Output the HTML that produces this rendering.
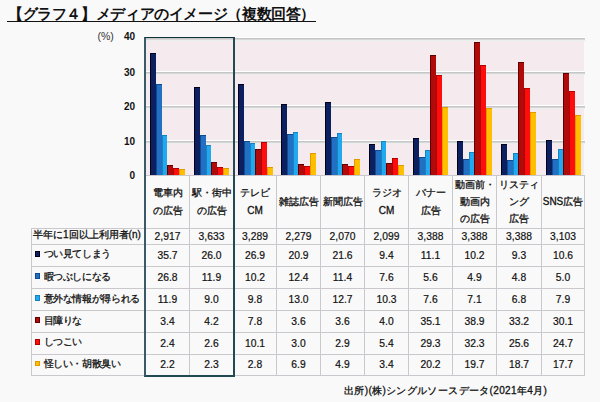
<!DOCTYPE html><html><head><meta charset="utf-8"><style>
*{margin:0;padding:0;box-sizing:border-box}
html,body{width:600px;height:402px;overflow:hidden;background:#f9f9f9;font-family:"Liberation Sans",sans-serif;color:#111}
.hd,.lab,.ft{-webkit-text-stroke:0.3px #111}
.cell{-webkit-text-stroke:0.2px #111}
.a{position:absolute}
.title{left:8px;top:5px;font-size:14.7px;font-weight:bold;white-space:nowrap;letter-spacing:-0.38px}
.ul{left:7px;top:21px;width:309px;height:1px;background:#111}
.yl{font-size:10px;font-weight:bold;text-align:right;width:30px;left:105px;line-height:11px}
.grid{left:145px;width:440px;height:4px;background:linear-gradient(#fff 0,#fff 25%,#c3c7c7 25%,#c3c7c7 50%,#dcd5d5 50%,#dcd5d5 75%,#e8efed 75%)}
.plot{left:145px;top:40px;width:439px;height:135px;background:#f5ebee}
.bar{position:absolute}
.vl{position:absolute;width:1px;background:#cac8cc}
.hl{position:absolute;height:1px;background:#cac8cc}
.hd{position:absolute;top:175px;height:53px;display:flex;align-items:center;justify-content:center;text-align:center;font-size:10px;line-height:17.3px}
.cell{position:absolute;text-align:center;font-size:10.3px;display:flex;align-items:center;justify-content:center}
.lab{position:absolute;left:33px;font-size:10px;letter-spacing:-0.35px;display:flex;align-items:center;white-space:nowrap;padding-bottom:2px}
.sq{display:inline-block;width:5.5px;height:5.5px;margin:0 3.5px 1px 1.5px}
</style></head><body>

<div class="a title">【グラフ４】メディアのイメージ（複数回答）</div>
<div class="a ul"></div>
<div class="a" style="left:97.5px;top:30px;font-size:10.5px;line-height:12px;color:#333">(%)</div>
<div class="a yl" style="top:31.0px">40</div>
<div class="a yl" style="top:67.0px">30</div>
<div class="a yl" style="top:101.0px">20</div>
<div class="a yl" style="top:135.7px">10</div>
<div class="a yl" style="top:170.1px">0</div>
<div class="a plot"></div>
<div class="a grid" style="top:37px"></div>
<div class="a grid" style="top:71px"></div>
<div class="a grid" style="top:105px"></div>
<div class="a grid" style="top:140px"></div>
<div class="bar" style="left:150px;top:53px;width:6px;height:122px;background:#0c1f5e;box-shadow:inset 1px 1px 0 #000018"></div>
<div class="bar" style="left:156px;top:84px;width:6px;height:91px;background:#2270c4;box-shadow:inset 1px 1px 0 #0f4a90"></div>
<div class="bar" style="left:162px;top:135px;width:5px;height:40px;background:#22a8ee;box-shadow:inset 1px 1px 0 #1583c0"></div>
<div class="bar" style="left:167px;top:165px;width:6px;height:10px;background:#b00a0a;box-shadow:inset 1px 1px 0 #600000"></div>
<div class="bar" style="left:173px;top:168px;width:6px;height:7px;background:#ff0d0d;box-shadow:inset 1px 1px 0 #b00000"></div>
<div class="bar" style="left:179px;top:169px;width:6px;height:6px;background:#ffbe00;box-shadow:inset 1px 1px 0 #e09a00"></div>
<div class="bar" style="left:194px;top:87px;width:6px;height:88px;background:#0c1f5e;box-shadow:inset 1px 1px 0 #000018"></div>
<div class="bar" style="left:200px;top:135px;width:6px;height:40px;background:#2270c4;box-shadow:inset 1px 1px 0 #0f4a90"></div>
<div class="bar" style="left:206px;top:145px;width:5px;height:30px;background:#22a8ee;box-shadow:inset 1px 1px 0 #1583c0"></div>
<div class="bar" style="left:211px;top:162px;width:6px;height:13px;background:#b00a0a;box-shadow:inset 1px 1px 0 #600000"></div>
<div class="bar" style="left:217px;top:167px;width:6px;height:8px;background:#ff0d0d;box-shadow:inset 1px 1px 0 #b00000"></div>
<div class="bar" style="left:223px;top:168px;width:6px;height:7px;background:#ffbe00;box-shadow:inset 1px 1px 0 #e09a00"></div>
<div class="bar" style="left:238px;top:84px;width:6px;height:91px;background:#0c1f5e;box-shadow:inset 1px 1px 0 #000018"></div>
<div class="bar" style="left:244px;top:141px;width:6px;height:34px;background:#2270c4;box-shadow:inset 1px 1px 0 #0f4a90"></div>
<div class="bar" style="left:250px;top:143px;width:5px;height:32px;background:#22a8ee;box-shadow:inset 1px 1px 0 #1583c0"></div>
<div class="bar" style="left:255px;top:149px;width:6px;height:26px;background:#b00a0a;box-shadow:inset 1px 1px 0 #600000"></div>
<div class="bar" style="left:261px;top:142px;width:6px;height:33px;background:#ff0d0d;box-shadow:inset 1px 1px 0 #b00000"></div>
<div class="bar" style="left:267px;top:167px;width:6px;height:8px;background:#ffbe00;box-shadow:inset 1px 1px 0 #e09a00"></div>
<div class="bar" style="left:281px;top:104px;width:6px;height:71px;background:#0c1f5e;box-shadow:inset 1px 1px 0 #000018"></div>
<div class="bar" style="left:287px;top:134px;width:6px;height:41px;background:#2270c4;box-shadow:inset 1px 1px 0 #0f4a90"></div>
<div class="bar" style="left:293px;top:132px;width:5px;height:43px;background:#22a8ee;box-shadow:inset 1px 1px 0 #1583c0"></div>
<div class="bar" style="left:298px;top:164px;width:6px;height:11px;background:#b00a0a;box-shadow:inset 1px 1px 0 #600000"></div>
<div class="bar" style="left:304px;top:166px;width:6px;height:9px;background:#ff0d0d;box-shadow:inset 1px 1px 0 #b00000"></div>
<div class="bar" style="left:310px;top:153px;width:6px;height:22px;background:#ffbe00;box-shadow:inset 1px 1px 0 #e09a00"></div>
<div class="bar" style="left:325px;top:102px;width:6px;height:73px;background:#0c1f5e;box-shadow:inset 1px 1px 0 #000018"></div>
<div class="bar" style="left:331px;top:137px;width:6px;height:38px;background:#2270c4;box-shadow:inset 1px 1px 0 #0f4a90"></div>
<div class="bar" style="left:337px;top:133px;width:5px;height:42px;background:#22a8ee;box-shadow:inset 1px 1px 0 #1583c0"></div>
<div class="bar" style="left:342px;top:164px;width:6px;height:11px;background:#b00a0a;box-shadow:inset 1px 1px 0 #600000"></div>
<div class="bar" style="left:348px;top:166px;width:6px;height:9px;background:#ff0d0d;box-shadow:inset 1px 1px 0 #b00000"></div>
<div class="bar" style="left:354px;top:159px;width:6px;height:16px;background:#ffbe00;box-shadow:inset 1px 1px 0 #e09a00"></div>
<div class="bar" style="left:369px;top:144px;width:6px;height:31px;background:#0c1f5e;box-shadow:inset 1px 1px 0 #000018"></div>
<div class="bar" style="left:375px;top:150px;width:6px;height:25px;background:#2270c4;box-shadow:inset 1px 1px 0 #0f4a90"></div>
<div class="bar" style="left:381px;top:141px;width:5px;height:34px;background:#22a8ee;box-shadow:inset 1px 1px 0 #1583c0"></div>
<div class="bar" style="left:386px;top:163px;width:6px;height:12px;background:#b00a0a;box-shadow:inset 1px 1px 0 #600000"></div>
<div class="bar" style="left:392px;top:158px;width:6px;height:17px;background:#ff0d0d;box-shadow:inset 1px 1px 0 #b00000"></div>
<div class="bar" style="left:398px;top:165px;width:6px;height:10px;background:#ffbe00;box-shadow:inset 1px 1px 0 #e09a00"></div>
<div class="bar" style="left:413px;top:138px;width:6px;height:37px;background:#0c1f5e;box-shadow:inset 1px 1px 0 #000018"></div>
<div class="bar" style="left:419px;top:157px;width:6px;height:18px;background:#2270c4;box-shadow:inset 1px 1px 0 #0f4a90"></div>
<div class="bar" style="left:425px;top:150px;width:5px;height:25px;background:#22a8ee;box-shadow:inset 1px 1px 0 #1583c0"></div>
<div class="bar" style="left:430px;top:55px;width:6px;height:120px;background:#b00a0a;box-shadow:inset 1px 1px 0 #600000"></div>
<div class="bar" style="left:436px;top:75px;width:6px;height:100px;background:#ff0d0d;box-shadow:inset 1px 1px 0 #b00000"></div>
<div class="bar" style="left:442px;top:107px;width:6px;height:68px;background:#ffbe00;box-shadow:inset 1px 1px 0 #e09a00"></div>
<div class="bar" style="left:457px;top:141px;width:6px;height:34px;background:#0c1f5e;box-shadow:inset 1px 1px 0 #000018"></div>
<div class="bar" style="left:463px;top:159px;width:6px;height:16px;background:#2270c4;box-shadow:inset 1px 1px 0 #0f4a90"></div>
<div class="bar" style="left:469px;top:152px;width:5px;height:23px;background:#22a8ee;box-shadow:inset 1px 1px 0 #1583c0"></div>
<div class="bar" style="left:474px;top:42px;width:6px;height:133px;background:#b00a0a;box-shadow:inset 1px 1px 0 #600000"></div>
<div class="bar" style="left:480px;top:65px;width:6px;height:110px;background:#ff0d0d;box-shadow:inset 1px 1px 0 #b00000"></div>
<div class="bar" style="left:486px;top:108px;width:6px;height:67px;background:#ffbe00;box-shadow:inset 1px 1px 0 #e09a00"></div>
<div class="bar" style="left:501px;top:144px;width:6px;height:31px;background:#0c1f5e;box-shadow:inset 1px 1px 0 #000018"></div>
<div class="bar" style="left:507px;top:160px;width:6px;height:15px;background:#2270c4;box-shadow:inset 1px 1px 0 #0f4a90"></div>
<div class="bar" style="left:513px;top:153px;width:5px;height:22px;background:#22a8ee;box-shadow:inset 1px 1px 0 #1583c0"></div>
<div class="bar" style="left:518px;top:62px;width:6px;height:113px;background:#b00a0a;box-shadow:inset 1px 1px 0 #600000"></div>
<div class="bar" style="left:524px;top:88px;width:6px;height:87px;background:#ff0d0d;box-shadow:inset 1px 1px 0 #b00000"></div>
<div class="bar" style="left:530px;top:112px;width:6px;height:63px;background:#ffbe00;box-shadow:inset 1px 1px 0 #e09a00"></div>
<div class="bar" style="left:546px;top:140px;width:6px;height:35px;background:#0c1f5e;box-shadow:inset 1px 1px 0 #000018"></div>
<div class="bar" style="left:552px;top:159px;width:6px;height:16px;background:#2270c4;box-shadow:inset 1px 1px 0 #0f4a90"></div>
<div class="bar" style="left:558px;top:149px;width:5px;height:26px;background:#22a8ee;box-shadow:inset 1px 1px 0 #1583c0"></div>
<div class="bar" style="left:563px;top:73px;width:6px;height:102px;background:#b00a0a;box-shadow:inset 1px 1px 0 #600000"></div>
<div class="bar" style="left:569px;top:91px;width:6px;height:84px;background:#ff0d0d;box-shadow:inset 1px 1px 0 #b00000"></div>
<div class="bar" style="left:575px;top:115px;width:6px;height:60px;background:#ffbe00;box-shadow:inset 1px 1px 0 #e09a00"></div>
<div class="hl" style="left:145px;top:174.5px;width:440px"></div>
<div class="hl" style="left:31px;top:227.9px;width:554px"></div>
<div class="hl" style="left:31px;top:243.6px;width:554px"></div>
<div class="hl" style="left:31px;top:266.0px;width:554px"></div>
<div class="hl" style="left:31px;top:288.0px;width:554px"></div>
<div class="hl" style="left:31px;top:310.2px;width:554px"></div>
<div class="hl" style="left:31px;top:332.0px;width:554px"></div>
<div class="hl" style="left:31px;top:353.7px;width:554px"></div>
<div class="hl" style="left:31px;top:374.9px;width:554px"></div>
<div class="vl" style="left:31px;top:228px;height:148px"></div>
<div class="vl" style="left:145px;top:175px;height:201px"></div>
<div class="vl" style="left:189px;top:175px;height:201px"></div>
<div class="vl" style="left:233px;top:175px;height:201px"></div>
<div class="vl" style="left:276px;top:175px;height:201px"></div>
<div class="vl" style="left:320px;top:175px;height:201px"></div>
<div class="vl" style="left:364px;top:175px;height:201px"></div>
<div class="vl" style="left:408px;top:175px;height:201px"></div>
<div class="vl" style="left:452px;top:175px;height:201px"></div>
<div class="vl" style="left:496px;top:175px;height:201px"></div>
<div class="vl" style="left:541px;top:175px;height:201px"></div>
<div class="vl" style="left:584px;top:175px;height:201px"></div>
<div class="hd" style="left:145.5px;width:44px">電車内<br>の広告</div>
<div class="hd" style="left:189.5px;width:44px">駅・街中<br>の広告</div>
<div class="hd" style="left:233.5px;width:43px">テレビ<br>CM</div>
<div class="hd" style="left:276.5px;width:44px">雑誌広告</div>
<div class="hd" style="left:320.5px;width:44px">新聞広告</div>
<div class="hd" style="left:364.5px;width:44px">ラジオ<br>CM</div>
<div class="hd" style="left:408.5px;width:44px">バナー<br>広告</div>
<div class="hd" style="left:452.5px;width:44px">動画前・<br>動画内<br>の広告</div>
<div class="hd" style="left:496.5px;width:45px">リスティ<br>ング<br>広告</div>
<div class="hd" style="left:541.5px;width:43px">SNS広告</div>
<div class="lab" style="letter-spacing:0;top:228.4px;height:15.7px">半年に1回以上利用者(n)</div>
<div class="cell" style="left:145.5px;width:44px;top:228.4px;height:15.7px">2,917</div>
<div class="cell" style="left:189.5px;width:44px;top:228.4px;height:15.7px">3,633</div>
<div class="cell" style="left:233.5px;width:43px;top:228.4px;height:15.7px">3,289</div>
<div class="cell" style="left:276.5px;width:44px;top:228.4px;height:15.7px">2,279</div>
<div class="cell" style="left:320.5px;width:44px;top:228.4px;height:15.7px">2,070</div>
<div class="cell" style="left:364.5px;width:44px;top:228.4px;height:15.7px">2,099</div>
<div class="cell" style="left:408.5px;width:44px;top:228.4px;height:15.7px">3,388</div>
<div class="cell" style="left:452.5px;width:44px;top:228.4px;height:15.7px">3,388</div>
<div class="cell" style="left:496.5px;width:45px;top:228.4px;height:15.7px">3,388</div>
<div class="cell" style="left:541.5px;width:43px;top:228.4px;height:15.7px">3,103</div>
<div class="lab" style="top:244.1px;height:22.4px"><span class="sq" style="background:#0c1f5e;box-shadow:inset 0 0 0 1px #000018"></span>つい見てしまう</div>
<div class="cell" style="left:145.5px;width:44px;top:244.1px;height:22.4px">35.7</div>
<div class="cell" style="left:189.5px;width:44px;top:244.1px;height:22.4px">26.0</div>
<div class="cell" style="left:233.5px;width:43px;top:244.1px;height:22.4px">26.9</div>
<div class="cell" style="left:276.5px;width:44px;top:244.1px;height:22.4px">20.9</div>
<div class="cell" style="left:320.5px;width:44px;top:244.1px;height:22.4px">21.6</div>
<div class="cell" style="left:364.5px;width:44px;top:244.1px;height:22.4px">9.4</div>
<div class="cell" style="left:408.5px;width:44px;top:244.1px;height:22.4px">11.1</div>
<div class="cell" style="left:452.5px;width:44px;top:244.1px;height:22.4px">10.2</div>
<div class="cell" style="left:496.5px;width:45px;top:244.1px;height:22.4px">9.3</div>
<div class="cell" style="left:541.5px;width:43px;top:244.1px;height:22.4px">10.6</div>
<div class="lab" style="top:266.5px;height:22.0px"><span class="sq" style="background:#2270c4;box-shadow:inset 0 0 0 1px #0f4a90"></span>暇つぶしになる</div>
<div class="cell" style="left:145.5px;width:44px;top:266.5px;height:22.0px">26.8</div>
<div class="cell" style="left:189.5px;width:44px;top:266.5px;height:22.0px">11.9</div>
<div class="cell" style="left:233.5px;width:43px;top:266.5px;height:22.0px">10.2</div>
<div class="cell" style="left:276.5px;width:44px;top:266.5px;height:22.0px">12.4</div>
<div class="cell" style="left:320.5px;width:44px;top:266.5px;height:22.0px">11.4</div>
<div class="cell" style="left:364.5px;width:44px;top:266.5px;height:22.0px">7.6</div>
<div class="cell" style="left:408.5px;width:44px;top:266.5px;height:22.0px">5.6</div>
<div class="cell" style="left:452.5px;width:44px;top:266.5px;height:22.0px">4.9</div>
<div class="cell" style="left:496.5px;width:45px;top:266.5px;height:22.0px">4.8</div>
<div class="cell" style="left:541.5px;width:43px;top:266.5px;height:22.0px">5.0</div>
<div class="lab" style="top:288.5px;height:22.2px"><span class="sq" style="background:#22a8ee;box-shadow:inset 0 0 0 1px #1583c0"></span>意外な情報が得られる</div>
<div class="cell" style="left:145.5px;width:44px;top:288.5px;height:22.2px">11.9</div>
<div class="cell" style="left:189.5px;width:44px;top:288.5px;height:22.2px">9.0</div>
<div class="cell" style="left:233.5px;width:43px;top:288.5px;height:22.2px">9.8</div>
<div class="cell" style="left:276.5px;width:44px;top:288.5px;height:22.2px">13.0</div>
<div class="cell" style="left:320.5px;width:44px;top:288.5px;height:22.2px">12.7</div>
<div class="cell" style="left:364.5px;width:44px;top:288.5px;height:22.2px">10.3</div>
<div class="cell" style="left:408.5px;width:44px;top:288.5px;height:22.2px">7.6</div>
<div class="cell" style="left:452.5px;width:44px;top:288.5px;height:22.2px">7.1</div>
<div class="cell" style="left:496.5px;width:45px;top:288.5px;height:22.2px">6.8</div>
<div class="cell" style="left:541.5px;width:43px;top:288.5px;height:22.2px">7.9</div>
<div class="lab" style="top:310.7px;height:21.8px"><span class="sq" style="background:#b00a0a;box-shadow:inset 0 0 0 1px #600000"></span>目障りな</div>
<div class="cell" style="left:145.5px;width:44px;top:310.7px;height:21.8px">3.4</div>
<div class="cell" style="left:189.5px;width:44px;top:310.7px;height:21.8px">4.2</div>
<div class="cell" style="left:233.5px;width:43px;top:310.7px;height:21.8px">7.8</div>
<div class="cell" style="left:276.5px;width:44px;top:310.7px;height:21.8px">3.6</div>
<div class="cell" style="left:320.5px;width:44px;top:310.7px;height:21.8px">3.6</div>
<div class="cell" style="left:364.5px;width:44px;top:310.7px;height:21.8px">4.0</div>
<div class="cell" style="left:408.5px;width:44px;top:310.7px;height:21.8px">35.1</div>
<div class="cell" style="left:452.5px;width:44px;top:310.7px;height:21.8px">38.9</div>
<div class="cell" style="left:496.5px;width:45px;top:310.7px;height:21.8px">33.2</div>
<div class="cell" style="left:541.5px;width:43px;top:310.7px;height:21.8px">30.1</div>
<div class="lab" style="top:332.5px;height:21.7px"><span class="sq" style="background:#ff0d0d;box-shadow:inset 0 0 0 1px #b00000"></span>しつこい</div>
<div class="cell" style="left:145.5px;width:44px;top:332.5px;height:21.7px">2.4</div>
<div class="cell" style="left:189.5px;width:44px;top:332.5px;height:21.7px">2.6</div>
<div class="cell" style="left:233.5px;width:43px;top:332.5px;height:21.7px">10.1</div>
<div class="cell" style="left:276.5px;width:44px;top:332.5px;height:21.7px">3.0</div>
<div class="cell" style="left:320.5px;width:44px;top:332.5px;height:21.7px">2.9</div>
<div class="cell" style="left:364.5px;width:44px;top:332.5px;height:21.7px">5.4</div>
<div class="cell" style="left:408.5px;width:44px;top:332.5px;height:21.7px">29.3</div>
<div class="cell" style="left:452.5px;width:44px;top:332.5px;height:21.7px">32.3</div>
<div class="cell" style="left:496.5px;width:45px;top:332.5px;height:21.7px">25.6</div>
<div class="cell" style="left:541.5px;width:43px;top:332.5px;height:21.7px">24.7</div>
<div class="lab" style="top:354.2px;height:21.2px"><span class="sq" style="background:#ffbe00;box-shadow:inset 0 0 0 1px #e09a00"></span>怪しい・胡散臭い</div>
<div class="cell" style="left:145.5px;width:44px;top:354.2px;height:21.2px">2.2</div>
<div class="cell" style="left:189.5px;width:44px;top:354.2px;height:21.2px">2.3</div>
<div class="cell" style="left:233.5px;width:43px;top:354.2px;height:21.2px">2.8</div>
<div class="cell" style="left:276.5px;width:44px;top:354.2px;height:21.2px">6.9</div>
<div class="cell" style="left:320.5px;width:44px;top:354.2px;height:21.2px">4.9</div>
<div class="cell" style="left:364.5px;width:44px;top:354.2px;height:21.2px">3.4</div>
<div class="cell" style="left:408.5px;width:44px;top:354.2px;height:21.2px">20.2</div>
<div class="cell" style="left:452.5px;width:44px;top:354.2px;height:21.2px">19.7</div>
<div class="cell" style="left:496.5px;width:45px;top:354.2px;height:21.2px">18.7</div>
<div class="cell" style="left:541.5px;width:43px;top:354.2px;height:21.2px">17.7</div>
<div class="a" style="left:144px;top:37px;width:91px;height:340px;border:2px solid #234a52;border-top:1.5px solid #0f3438;border-left-color:#3a5a6a"></div>
<div class="a ft" style="left:344px;top:384px;font-size:10px;letter-spacing:0.35px;white-space:nowrap">出所)(株)シングルソースデータ(2021年4月)</div>
</body></html>
